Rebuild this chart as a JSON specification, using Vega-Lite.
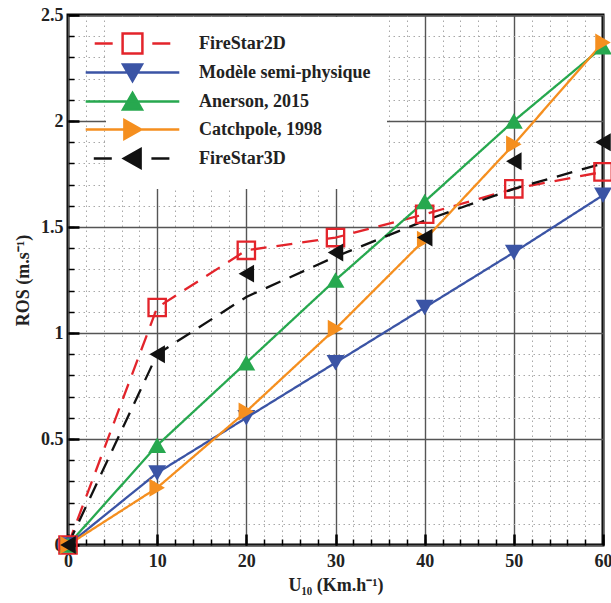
{
  "$schema": "https://vega.github.io/schema/vega-lite/v6.json",
  "width": 535,
  "height": 530,
  "autosize": {"type": "none"},
  "padding": {"left": 68, "top": 15, "right": 8, "bottom": 58},
  "background": "white",
  "config": {
    "view": {"stroke": "black", "strokeWidth": 3},
    "font": "Liberation Serif",
    "legend": {"padding": 16, "fillColor": "white",
      "symbolSize": 324, "symbolStrokeWidth": 2.5, "symbolOpacity": 1, "labelOffset": 56, "rowPadding": 0,
      "labelFont": "Liberation Serif", "labelFontWeight": "bold", "labelFontSize": 18, "labelColor": "#222222", "labelLimit": 400}
  },
  "data": {
    "values": [
      {"series": "FireStar2D", "u": 0, "ros": 0, "role": "both"},
      {"series": "FireStar2D", "u": 10, "ros": 1.12, "role": "both"},
      {"series": "FireStar2D", "u": 20, "ros": 1.39, "role": "both"},
      {"series": "FireStar2D", "u": 30, "ros": 1.45, "role": "both"},
      {"series": "FireStar2D", "u": 40, "ros": 1.56, "role": "both"},
      {"series": "FireStar2D", "u": 50, "ros": 1.68, "role": "both"},
      {"series": "FireStar2D", "u": 60, "ros": 1.76, "role": "both"},
      {"series": "Modèle semi-physique", "u": 0, "ros": 0, "role": "both"},
      {"series": "Modèle semi-physique", "u": 10, "ros": 0.34, "role": "both"},
      {"series": "Modèle semi-physique", "u": 20, "ros": 0.6, "role": "both"},
      {"series": "Modèle semi-physique", "u": 30, "ros": 0.86, "role": "both"},
      {"series": "Modèle semi-physique", "u": 40, "ros": 1.12, "role": "both"},
      {"series": "Modèle semi-physique", "u": 50, "ros": 1.38, "role": "both"},
      {"series": "Modèle semi-physique", "u": 60, "ros": 1.65, "role": "both"},
      {"series": "Anerson, 2015", "u": 0, "ros": 0, "role": "both"},
      {"series": "Anerson, 2015", "u": 10, "ros": 0.47, "role": "both"},
      {"series": "Anerson, 2015", "u": 20, "ros": 0.86, "role": "both"},
      {"series": "Anerson, 2015", "u": 30, "ros": 1.25, "role": "both"},
      {"series": "Anerson, 2015", "u": 40, "ros": 1.62, "role": "both"},
      {"series": "Anerson, 2015", "u": 50, "ros": 2.0, "role": "both"},
      {"series": "Anerson, 2015", "u": 60, "ros": 2.35, "role": "both"},
      {"series": "Catchpole, 1998", "u": 0, "ros": 0, "role": "both"},
      {"series": "Catchpole, 1998", "u": 10, "ros": 0.27, "role": "both"},
      {"series": "Catchpole, 1998", "u": 20, "ros": 0.63, "role": "both"},
      {"series": "Catchpole, 1998", "u": 30, "ros": 1.02, "role": "both"},
      {"series": "Catchpole, 1998", "u": 40, "ros": 1.44, "role": "both"},
      {"series": "Catchpole, 1998", "u": 50, "ros": 1.89, "role": "both"},
      {"series": "Catchpole, 1998", "u": 60, "ros": 2.37, "role": "both"},
      {"series": "FireStar3D", "u": 0, "ros": 0, "role": "both"},
      {"series": "FireStar3D", "u": 10, "ros": 0.9, "role": "both"},
      {"series": "FireStar3D", "u": 20, "ros": 1.17, "role": "line"},
      {"series": "FireStar3D", "u": 30, "ros": 1.36, "role": "line"},
      {"series": "FireStar3D", "u": 40, "ros": 1.53, "role": "line"},
      {"series": "FireStar3D", "u": 50, "ros": 1.68, "role": "line"},
      {"series": "FireStar3D", "u": 60, "ros": 1.8, "role": "line"},
      {"series": "FireStar3D", "u": 20, "ros": 1.28, "role": "point"},
      {"series": "FireStar3D", "u": 30, "ros": 1.38, "role": "point"},
      {"series": "FireStar3D", "u": 40, "ros": 1.45, "role": "point"},
      {"series": "FireStar3D", "u": 50, "ros": 1.81, "role": "point"},
      {"series": "FireStar3D", "u": 60, "ros": 1.9, "role": "point"}
    ]
  },
  "resolve": {"axis": {"x": "independent", "y": "independent"}},
  "layer": [
    {
      "transform": [{"filter": "datum.role !== 'point'"}],
      "mark": {"type": "line", "strokeWidth": 2.3},
      "encoding": {
        "x": {"field": "u", "type": "quantitative", "scale": {"domain": [0, 60], "nice": false},
          "axis": {"orient": "bottom", "values": [0,2,4,6,8,10,12,14,16,18,20,22,24,26,28,30,32,34,36,38,40,42,44,46,48,50,52,54,56,58,60],
            "grid": true, "gridDash": [1.5, 3.5], "gridColor": "#a8a8a8", "gridWidth": 1, "ticks": true, "tickSize": -6, "tickColor": "black", "tickWidth": 1.5,
            "labels": false, "domain": false, "title": null}},
        "y": {"field": "ros", "type": "quantitative", "scale": {"domain": [0, 2.5], "nice": false},
          "axis": {"orient": "left", "values": [0,0.1,0.2,0.3,0.4,0.5,0.6,0.7,0.8,0.9,1,1.1,1.2,1.3,1.4,1.5,1.6,1.7,1.8,1.9,2,2.1,2.2,2.3,2.4,2.5],
            "grid": true, "gridDash": [1.5, 3.5], "gridColor": "#a8a8a8", "gridWidth": 1, "ticks": true, "tickSize": -6, "tickColor": "black", "tickWidth": 1.5,
            "labels": false, "domain": false, "title": null}},
        "color": {"field": "series", "type": "nominal", "legend": null,
          "scale": {"domain": ["FireStar3D", "Catchpole, 1998", "Anerson, 2015", "Modèle semi-physique", "FireStar2D"],
            "range": ["#111111", "#f58f1f", "#27a84f", "#3b54a5", "#e3242b"]}},
        "strokeDash": {"field": "series", "type": "nominal", "legend": null,
          "scale": {"domain": ["FireStar3D", "Catchpole, 1998", "Anerson, 2015", "Modèle semi-physique", "FireStar2D"],
            "range": [[16, 10], [1, 0], [1, 0], [1, 0], [16, 10]]}}
      }
    },
    {
      "transform": [{"filter": "datum.role !== 'line' && datum.series === 'FireStar2D'"}],
      "mark": {"type": "point", "shape": "square", "filled": false, "opacity": 1, "strokeWidth": 2.3, "color": "#e3242b", "size": 300},
      "encoding": {
        "x": {"field": "u", "type": "quantitative", "scale": {"domain": [0, 60], "nice": false},
          "axis": {"orient": "bottom", "values": [0,10,20,30,40,50,60], "format": "d",
            "grid": true, "gridColor": "#555555", "gridWidth": 1.4, "ticks": true, "tickSize": -11, "tickColor": "black", "tickWidth": 2.5,
            "domain": false, "labelFont": "Liberation Serif", "labelFontWeight": "bold", "labelFontSize": 18, "labelColor": "#222222",
            "labelPadding": 18, "labelFlush": false, "labelOverlap": false,
            "title": "U₁₀ (Km.h⁻¹)", "titleFont": "Liberation Serif", "titleFontWeight": "bold", "titleFontSize": 18, "titleColor": "#222222", "titlePadding": 6}},
        "y": {"field": "ros", "type": "quantitative", "scale": {"domain": [0, 2.5], "nice": false},
          "axis": {"orient": "left", "values": [0,0.5,1,1.5,2,2.5], "format": "~g",
            "grid": true, "gridColor": "#555555", "gridWidth": 1.4, "ticks": true, "tickSize": -11, "tickColor": "black", "tickWidth": 2.5,
            "domain": false, "labelFont": "Liberation Serif", "labelFontWeight": "bold", "labelFontSize": 18, "labelColor": "#222222",
            "labelPadding": 16, "labelFlush": false, "labelOverlap": false,
            "title": "ROS (m.s⁻¹)", "titleFont": "Liberation Serif", "titleFontWeight": "bold", "titleFontSize": 18, "titleColor": "#222222", "titlePadding": 8}}
      }
    },
    {
      "transform": [{"filter": "datum.role !== 'line' && datum.series === 'Modèle semi-physique'"}],
      "mark": {"type": "point", "shape": "triangle-down", "filled": true, "opacity": 1, "color": "#3b54a5", "size": 320},
      "encoding": {
        "x": {"field": "u", "type": "quantitative", "axis": null},
        "y": {"field": "ros", "type": "quantitative", "axis": null}
      }
    },
    {
      "transform": [{"filter": "datum.role !== 'line' && datum.series === 'Anerson, 2015'"}],
      "mark": {"type": "point", "shape": "triangle-up", "filled": true, "opacity": 1, "color": "#27a84f", "size": 320},
      "encoding": {
        "x": {"field": "u", "type": "quantitative", "axis": null},
        "y": {"field": "ros", "type": "quantitative", "axis": null}
      }
    },
    {
      "transform": [{"filter": "datum.role !== 'line' && datum.series === 'Catchpole, 1998'"}],
      "mark": {"type": "point", "shape": "triangle-right", "filled": true, "opacity": 1, "color": "#f58f1f", "size": 320},
      "encoding": {
        "x": {"field": "u", "type": "quantitative", "axis": null},
        "y": {"field": "ros", "type": "quantitative", "axis": null}
      }
    },
    {
      "transform": [{"filter": "datum.role !== 'line' && datum.series === 'FireStar3D'"}],
      "mark": {"type": "point", "shape": "triangle-left", "filled": true, "opacity": 1, "color": "#111111", "size": 320},
      "encoding": {
        "x": {"field": "u", "type": "quantitative", "axis": null},
        "y": {"field": "ros", "type": "quantitative", "axis": null}
      }
    },
    {
      "transform": [{"filter": "datum.role !== 'line'"}],
      "mark": {"type": "point", "opacity": 0},
      "encoding": {
        "x": {"field": "u", "type": "quantitative", "axis": null},
        "y": {"field": "ros", "type": "quantitative", "axis": null},
        "fill": {"field": "series", "type": "nominal",
          "scale": {"domain": ["FireStar2D", "Modèle semi-physique", "Anerson, 2015", "Catchpole, 1998", "FireStar3D"],
            "range": ["white", "#3b54a5", "#27a84f", "#f58f1f", "#111111"]},
          "legend": {"title": null, "orient": "none", "legendX": 38, "legendY": 2}},
        "stroke": {"field": "series", "type": "nominal",
          "scale": {"domain": ["FireStar2D", "Modèle semi-physique", "Anerson, 2015", "Catchpole, 1998", "FireStar3D"],
            "range": ["#e3242b", "#3b54a5", "#27a84f", "#f58f1f", "#111111"]},
          "legend": {"title": null, "orient": "none", "legendX": 38, "legendY": 2}},
        "shape": {"field": "series", "type": "nominal",
          "legend": {"title": null, "orient": "none", "legendX": 38, "legendY": 2},
          "scale": {"domain": ["FireStar2D", "Modèle semi-physique", "Anerson, 2015", "Catchpole, 1998", "FireStar3D"],
            "range": [
              "M-4.2,0H-2.2M2.2,0H4.2M-1.1,-1.1H1.1V1.1H-1.1Z",
              "M-5.2,0H5.2M-1.05,-0.9H1.05L0,0.95Z",
              "M-5.2,0H5.2M0,-0.95L1.05,0.9H-1.05Z",
              "M-5.2,0H5.2M-0.9,-1.05L0.95,0L-0.9,1.05Z",
              "M-4.3,0H-2.3M2.1,0H4.1M0.9,-1.05L-0.95,0L0.9,1.05Z"
            ]}}
      }
    }
  ]
}
